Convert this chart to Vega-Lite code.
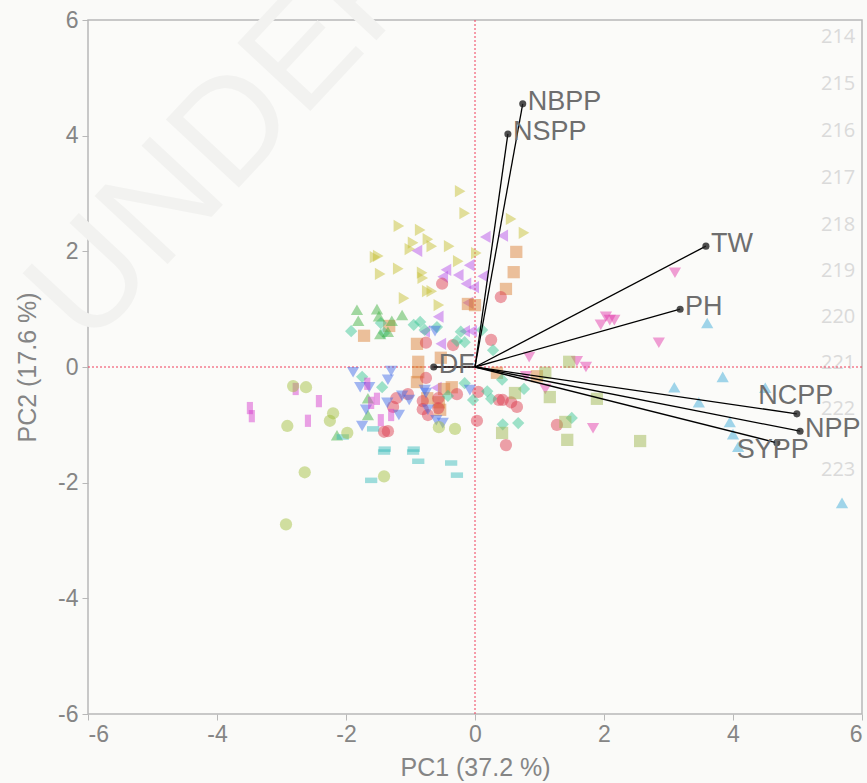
{
  "$schema": "https://vega.github.io/schema/vega-lite/v6.json",
  "width": 774,
  "height": 694,
  "autosize": "none",
  "padding": {"left": 88, "top": 20, "right": 5, "bottom": 69},
  "background": "#fafaf8",
  "config": {
    "view": {"stroke": "#b8b8b8", "strokeWidth": 1.5, "fill": "#fbfbf9"},
    "axis": {
      "grid": false, "domain": false, "tickColor": "#b8b8b8", "tickSize": 6, "tickWidth": 1, "zindex": 1,
      "labelColor": "#858585", "labelFontSize": 23, "labelFont": "Liberation Sans",
      "titleColor": "#858585", "titleFont": "Liberation Sans", "titleFontWeight": "normal", "titleFontSize": 25
    }
  },
  "datasets": {
    "scores": [
      {"group": "A", "PC1": -0.23, "PC2": 3.04}, {"group": "A", "PC1": -0.16, "PC2": 2.66}, {"group": "A", "PC1": 0.56, "PC2": 2.56},
      {"group": "A", "PC1": 0.76, "PC2": 2.32}, {"group": "A", "PC1": -1.18, "PC2": 2.44}, {"group": "A", "PC1": -0.85, "PC2": 2.37},
      {"group": "A", "PC1": -0.73, "PC2": 2.21}, {"group": "A", "PC1": -0.96, "PC2": 2.15}, {"group": "A", "PC1": -1.01, "PC2": 2.04},
      {"group": "A", "PC1": -0.67, "PC2": 2.09}, {"group": "A", "PC1": -0.4, "PC2": 2.09}, {"group": "A", "PC1": -1.55, "PC2": 1.9},
      {"group": "A", "PC1": -1.5, "PC2": 1.92}, {"group": "A", "PC1": 0.02, "PC2": 1.97}, {"group": "A", "PC1": -0.26, "PC2": 1.83},
      {"group": "A", "PC1": -1.47, "PC2": 1.61}, {"group": "A", "PC1": -1.19, "PC2": 1.7}, {"group": "A", "PC1": -0.82, "PC2": 1.63},
      {"group": "A", "PC1": -0.81, "PC2": 1.54}, {"group": "A", "PC1": -0.74, "PC2": 1.31}, {"group": "A", "PC1": -0.67, "PC2": 1.31},
      {"group": "A", "PC1": -1.1, "PC2": 1.19}, {"group": "A", "PC1": -0.56, "PC2": 1.07},
      {"group": "B", "PC1": 0.16, "PC2": 2.25}, {"group": "B", "PC1": 0.43, "PC2": 2.27}, {"group": "B", "PC1": -0.9, "PC2": 2.01},
      {"group": "B", "PC1": -0.45, "PC2": 1.68}, {"group": "B", "PC1": -0.09, "PC2": 1.76}, {"group": "B", "PC1": -0.5, "PC2": 1.56},
      {"group": "B", "PC1": -0.26, "PC2": 1.59}, {"group": "B", "PC1": 0.12, "PC2": 1.57}, {"group": "B", "PC1": -0.14, "PC2": 1.44},
      {"group": "B", "PC1": -0.02, "PC2": 1.38}, {"group": "B", "PC1": -0.57, "PC2": 0.87}, {"group": "B", "PC1": -0.11, "PC2": 1.11},
      {"group": "B", "PC1": -0.16, "PC2": 0.62}, {"group": "B", "PC1": -0.05, "PC2": 0.62}, {"group": "B", "PC1": -0.53, "PC2": 0.4},
      {"group": "B", "PC1": -0.6, "PC2": -0.36}, {"group": "B", "PC1": -0.78, "PC2": 0.61},
      {"group": "C", "PC1": 0.64, "PC2": 1.99}, {"group": "C", "PC1": 0.6, "PC2": 1.64}, {"group": "C", "PC1": 0.48, "PC2": 1.35},
      {"group": "C", "PC1": -0.11, "PC2": 1.09}, {"group": "C", "PC1": 0.0, "PC2": 1.07}, {"group": "C", "PC1": -1.33, "PC2": 0.71},
      {"group": "C", "PC1": -1.72, "PC2": 0.54}, {"group": "C", "PC1": -0.9, "PC2": 0.4}, {"group": "C", "PC1": -0.88, "PC2": 0.09},
      {"group": "C", "PC1": -0.88, "PC2": -0.09}, {"group": "C", "PC1": -0.9, "PC2": -0.26}, {"group": "C", "PC1": -0.53, "PC2": 0.16},
      {"group": "C", "PC1": -0.48, "PC2": -0.38}, {"group": "C", "PC1": -0.36, "PC2": -0.35}, {"group": "C", "PC1": -0.74, "PC2": -0.54},
      {"group": "C", "PC1": -0.56, "PC2": -0.61}, {"group": "C", "PC1": -0.54, "PC2": -0.74}, {"group": "C", "PC1": 0.34, "PC2": -0.1},
      {"group": "C", "PC1": 0.96, "PC2": -0.16},
      {"group": "D", "PC1": -0.51, "PC2": 1.44}, {"group": "D", "PC1": 0.4, "PC2": 1.21}, {"group": "D", "PC1": -0.76, "PC2": 0.42},
      {"group": "D", "PC1": -0.34, "PC2": 0.38}, {"group": "D", "PC1": 0.25, "PC2": 0.47}, {"group": "D", "PC1": -0.76, "PC2": -0.19},
      {"group": "D", "PC1": -1.04, "PC2": -0.47}, {"group": "D", "PC1": -1.22, "PC2": -0.54}, {"group": "D", "PC1": -1.27, "PC2": -0.69},
      {"group": "D", "PC1": -0.81, "PC2": -0.59}, {"group": "D", "PC1": -0.81, "PC2": -0.73}, {"group": "D", "PC1": -0.73, "PC2": -0.83},
      {"group": "D", "PC1": -0.57, "PC2": -0.54}, {"group": "D", "PC1": -0.57, "PC2": -0.71}, {"group": "D", "PC1": -0.28, "PC2": -0.47},
      {"group": "D", "PC1": 0.05, "PC2": -0.43}, {"group": "D", "PC1": 0.37, "PC2": -0.57}, {"group": "D", "PC1": 0.43, "PC2": -0.57},
      {"group": "D", "PC1": 0.56, "PC2": -0.61}, {"group": "D", "PC1": 0.65, "PC2": -0.69}, {"group": "D", "PC1": 0.03, "PC2": -0.93},
      {"group": "D", "PC1": 0.48, "PC2": -1.35}, {"group": "D", "PC1": 1.27, "PC2": -1.0}, {"group": "D", "PC1": -1.41, "PC2": -1.12},
      {"group": "D", "PC1": -1.35, "PC2": -1.11},
      {"group": "E", "PC1": -1.92, "PC2": 0.62}, {"group": "E", "PC1": -1.46, "PC2": 0.76}, {"group": "E", "PC1": -1.41, "PC2": 0.59},
      {"group": "E", "PC1": -0.95, "PC2": 0.73}, {"group": "E", "PC1": -0.85, "PC2": 0.78}, {"group": "E", "PC1": -0.59, "PC2": 0.69},
      {"group": "E", "PC1": -0.78, "PC2": 0.64}, {"group": "E", "PC1": -0.22, "PC2": 0.61}, {"group": "E", "PC1": 0.11, "PC2": 0.64},
      {"group": "E", "PC1": -0.16, "PC2": 0.43}, {"group": "E", "PC1": -0.28, "PC2": 0.45}, {"group": "E", "PC1": 0.28, "PC2": 0.29},
      {"group": "E", "PC1": -1.75, "PC2": -0.17}, {"group": "E", "PC1": -1.44, "PC2": -0.35}, {"group": "E", "PC1": -0.16, "PC2": -0.28},
      {"group": "E", "PC1": 0.19, "PC2": -0.42}, {"group": "E", "PC1": 0.42, "PC2": -0.22}, {"group": "E", "PC1": 0.76, "PC2": -0.38},
      {"group": "E", "PC1": -0.42, "PC2": -0.5}, {"group": "E", "PC1": -0.03, "PC2": -0.57}, {"group": "E", "PC1": 0.25, "PC2": -0.55},
      {"group": "E", "PC1": 0.43, "PC2": -0.99}, {"group": "E", "PC1": 0.67, "PC2": -0.97}, {"group": "E", "PC1": 1.5, "PC2": -0.88},
      {"group": "F", "PC1": -1.83, "PC2": 0.99}, {"group": "F", "PC1": -1.52, "PC2": 1.0}, {"group": "F", "PC1": -1.49, "PC2": 0.88},
      {"group": "F", "PC1": -1.81, "PC2": 0.8}, {"group": "F", "PC1": -1.29, "PC2": 0.8}, {"group": "F", "PC1": -1.13, "PC2": 0.9},
      {"group": "F", "PC1": -1.47, "PC2": 0.57}, {"group": "F", "PC1": -1.35, "PC2": 0.61}, {"group": "F", "PC1": -1.66, "PC2": -0.54},
      {"group": "F", "PC1": -1.66, "PC2": -0.83}, {"group": "F", "PC1": -2.14, "PC2": -1.18},
      {"group": "G", "PC1": -1.89, "PC2": -0.09}, {"group": "G", "PC1": -1.3, "PC2": -0.07}, {"group": "G", "PC1": -1.78, "PC2": -0.35},
      {"group": "G", "PC1": -1.64, "PC2": -0.35}, {"group": "G", "PC1": -1.35, "PC2": -0.22}, {"group": "G", "PC1": -1.36, "PC2": -0.62},
      {"group": "G", "PC1": -1.69, "PC2": -0.74}, {"group": "G", "PC1": -1.75, "PC2": -1.02}, {"group": "G", "PC1": -1.18, "PC2": -0.83},
      {"group": "G", "PC1": -1.02, "PC2": -0.57}, {"group": "G", "PC1": -1.13, "PC2": -0.5}, {"group": "G", "PC1": -0.78, "PC2": -0.4},
      {"group": "G", "PC1": -0.73, "PC2": -0.74}, {"group": "G", "PC1": -0.6, "PC2": -0.92}, {"group": "G", "PC1": -0.5, "PC2": -0.97},
      {"group": "G", "PC1": -0.08, "PC2": -0.4}, {"group": "G", "PC1": -0.62, "PC2": 0.62}, {"group": "G", "PC1": -0.76, "PC2": -0.45},
      {"group": "H", "PC1": -3.49, "PC2": -0.71}, {"group": "H", "PC1": -3.46, "PC2": -0.85}, {"group": "H", "PC1": -2.78, "PC2": -0.38},
      {"group": "H", "PC1": -2.42, "PC2": -0.59}, {"group": "H", "PC1": -2.59, "PC2": -0.93}, {"group": "H", "PC1": -1.67, "PC2": -0.29},
      {"group": "H", "PC1": -1.52, "PC2": -0.55}, {"group": "H", "PC1": -1.61, "PC2": -0.62}, {"group": "H", "PC1": -1.46, "PC2": -0.92},
      {"group": "H", "PC1": -1.3, "PC2": -0.83},
      {"group": "I", "PC1": -1.58, "PC2": -1.07}, {"group": "I", "PC1": -2.05, "PC2": -1.21}, {"group": "I", "PC1": -1.4, "PC2": -1.42},
      {"group": "I", "PC1": -1.41, "PC2": -1.47}, {"group": "I", "PC1": -0.95, "PC2": -1.42}, {"group": "I", "PC1": -0.96, "PC2": -1.47},
      {"group": "I", "PC1": -0.88, "PC2": -1.63}, {"group": "I", "PC1": -0.37, "PC2": -1.66}, {"group": "I", "PC1": -0.28, "PC2": -1.87},
      {"group": "I", "PC1": -1.61, "PC2": -1.96},
      {"group": "J", "PC1": -2.82, "PC2": -0.33}, {"group": "J", "PC1": -2.62, "PC2": -0.35}, {"group": "J", "PC1": -2.2, "PC2": -0.8},
      {"group": "J", "PC1": -2.25, "PC2": -0.93}, {"group": "J", "PC1": -2.91, "PC2": -1.02}, {"group": "J", "PC1": -1.98, "PC2": -1.14},
      {"group": "J", "PC1": -2.64, "PC2": -1.82}, {"group": "J", "PC1": -1.41, "PC2": -1.89}, {"group": "J", "PC1": -2.93, "PC2": -2.72},
      {"group": "J", "PC1": -0.56, "PC2": -1.04}, {"group": "J", "PC1": -0.31, "PC2": -1.07},
      {"group": "K", "PC1": 3.1, "PC2": 1.63}, {"group": "K", "PC1": 2.03, "PC2": 0.87}, {"group": "K", "PC1": 2.09, "PC2": 0.81},
      {"group": "K", "PC1": 2.16, "PC2": 0.81}, {"group": "K", "PC1": 1.95, "PC2": 0.73}, {"group": "K", "PC1": 2.85, "PC2": 0.42},
      {"group": "K", "PC1": 0.84, "PC2": 0.17}, {"group": "K", "PC1": 1.58, "PC2": 0.1}, {"group": "K", "PC1": 1.72, "PC2": 0.0},
      {"group": "K", "PC1": 0.79, "PC2": -0.16}, {"group": "K", "PC1": 1.09, "PC2": -0.38}, {"group": "K", "PC1": 1.83, "PC2": -1.06},
      {"group": "L", "PC1": 3.6, "PC2": 0.76}, {"group": "L", "PC1": 3.09, "PC2": -0.35}, {"group": "L", "PC1": 3.84, "PC2": -0.17},
      {"group": "L", "PC1": 3.47, "PC2": -0.61}, {"group": "L", "PC1": 4.5, "PC2": -0.36}, {"group": "L", "PC1": 3.95, "PC2": -0.95},
      {"group": "L", "PC1": 4.0, "PC2": -1.16}, {"group": "L", "PC1": 4.08, "PC2": -1.38}, {"group": "L", "PC1": 5.69, "PC2": -2.35},
      {"group": "M", "PC1": 1.46, "PC2": 0.09}, {"group": "M", "PC1": 1.09, "PC2": -0.1}, {"group": "M", "PC1": 0.62, "PC2": -0.45},
      {"group": "M", "PC1": 1.16, "PC2": -0.52}, {"group": "M", "PC1": 1.89, "PC2": -0.55}, {"group": "M", "PC1": 1.4, "PC2": -0.95},
      {"group": "M", "PC1": 0.42, "PC2": -1.14}, {"group": "M", "PC1": 1.43, "PC2": -1.26}, {"group": "M", "PC1": 2.56, "PC2": -1.28}
    ],
    "loadings": [
      {"var": "NBPP", "PC1": 0.74, "PC2": 4.55},
      {"var": "NSPP", "PC1": 0.51, "PC2": 4.03},
      {"var": "TW", "PC1": 3.58, "PC2": 2.09},
      {"var": "PH", "PC1": 3.18, "PC2": 1.0},
      {"var": "DF", "PC1": -0.64, "PC2": 0.0},
      {"var": "NCPP", "PC1": 4.99, "PC2": -0.81},
      {"var": "NPP", "PC1": 5.04, "PC2": -1.11},
      {"var": "SYPP", "PC1": 4.68, "PC2": -1.31}
    ],
    "linenums": [
      {"num": "214", "PC1": 5.63, "PC2": 5.71}, {"num": "215", "PC1": 5.63, "PC2": 4.9}, {"num": "216", "PC1": 5.63, "PC2": 4.08},
      {"num": "217", "PC1": 5.63, "PC2": 3.27}, {"num": "218", "PC1": 5.63, "PC2": 2.46}, {"num": "219", "PC1": 5.63, "PC2": 1.66},
      {"num": "220", "PC1": 5.63, "PC2": 0.87}, {"num": "221", "PC1": 5.63, "PC2": 0.07}, {"num": "222", "PC1": 5.63, "PC2": -0.73},
      {"num": "223", "PC1": 5.63, "PC2": -1.78}
    ],
    "watermark": [{"text": "UNDER REVIEW", "PC1": -5.66, "PC2": -0.05}],
    "zero": [{"v": 0}]
  },
  "encoding": {
    "x": {"field": "PC1", "type": "quantitative", "title": "PC1  (37.2 %)",
          "scale": {"domain": [-6, 6], "nice": false, "zero": false},
          "axis": {"values": [-6, -4, -2, 0, 2, 4, 6], "labelExpr": "'' + datum.value", "titlePadding": 9, "labelPadding": 3}},
    "y": {"field": "PC2", "type": "quantitative", "title": "PC2  (17.6 %)",
          "scale": {"domain": [-6, 6], "nice": false, "zero": false},
          "axis": {"values": [-6, -4, -2, 0, 2, 4, 6], "labelExpr": "'' + datum.value", "titlePadding": 17, "labelPadding": 4}}
  },
  "layer": [
    {
      "data": {"name": "watermark"},
      "mark": {"type": "text", "align": "left", "baseline": "bottom", "angle": -47, "fontSize": 145, "font": "Liberation Sans", "color": "#f2f2f0", "clip": false},
      "encoding": {"text": {"field": "text"}}
    },
    {
      "data": {"name": "linenums"},
      "mark": {"type": "text", "align": "center", "baseline": "middle", "fontSize": 20, "font": "Open Sans", "color": "#dadada"},
      "encoding": {"text": {"field": "num"}}
    },
    {
      "data": {"name": "zero"},
      "mark": {"type": "rule", "color": "#f03c5a", "strokeDash": [2, 2], "strokeWidth": 1},
      "encoding": {"x": {"field": "v", "type": "quantitative"}, "y": null}
    },
    {
      "data": {"name": "zero"},
      "mark": {"type": "rule", "color": "#f03c5a", "strokeDash": [2, 2], "strokeWidth": 1},
      "encoding": {"y": {"field": "v", "type": "quantitative"}, "x": null}
    },
    {
      "data": {"name": "scores"},
      "mark": {"type": "point", "filled": true, "opacity": 0.47, "strokeWidth": 0},
      "encoding": {
        "color": {"field": "group", "type": "nominal", "legend": null,
                  "scale": {"domain": ["A","B","C","D","E","F","G","H","I","J","K","L","M"],
                            "range": ["#c4bd2c","#b34be8","#d97c2f","#db374b","#34c391","#3cae3c","#3b65e8","#d53acb","#32b9b9","#9fbd39","#e133a7","#37a7d6","#98b249"]}},
        "shape": {"field": "group", "type": "nominal", "legend": null,
                  "scale": {"domain": ["A","B","C","D","E","F","G","H","I","J","K","L","M"],
                            "range": ["triangle-right","triangle-left","square","circle","diamond","triangle-up","triangle-down","M-0.5,-1L0.5,-1L0.5,1L-0.5,1Z","M-1,-0.45L1,-0.45L1,0.45L-1,0.45Z","circle","triangle-down","triangle-up","square"]}},
        "size": {"field": "group", "type": "nominal", "legend": null,
                 "scale": {"domain": ["A","B","C","D","E","F","G","H","I","J","K","L","M"],
                           "range": [150, 150, 115, 100, 150, 150, 150, 190, 190, 100, 150, 150, 115]}}
      }
    },
    {
      "data": {"name": "loadings"},
      "mark": {"type": "rule", "color": "#000000", "strokeWidth": 1.3},
      "encoding": {
        "x2": {"datum": 0},
        "y2": {"datum": 0}
      }
    },
    {
      "data": {"name": "loadings"},
      "mark": {"type": "circle", "color": "#222222", "opacity": 0.8, "size": 50}
    },
    {
      "data": {"name": "loadings"},
      "transform": [{"filter": "datum.var != 'NCPP' && datum.var != 'SYPP'"}],
      "mark": {"type": "text", "align": "left", "baseline": "middle", "dx": 5, "dy": -2, "fontSize": 27, "font": "Liberation Sans", "color": "#6e6e6e"},
      "encoding": {"text": {"field": "var"}}
    },
    {
      "data": {"name": "loadings"},
      "transform": [{"filter": "datum.var == 'NCPP'"}],
      "mark": {"type": "text", "align": "center", "baseline": "middle", "dx": -1, "dy": -18, "fontSize": 27, "font": "Liberation Sans", "color": "#6e6e6e"},
      "encoding": {"text": {"field": "var"}}
    },
    {
      "data": {"name": "loadings"},
      "transform": [{"filter": "datum.var == 'SYPP'"}],
      "mark": {"type": "text", "align": "center", "baseline": "middle", "dx": -4, "dy": 7, "fontSize": 27, "font": "Liberation Sans", "color": "#6e6e6e"},
      "encoding": {"text": {"field": "var"}}
    }
  ]
}
